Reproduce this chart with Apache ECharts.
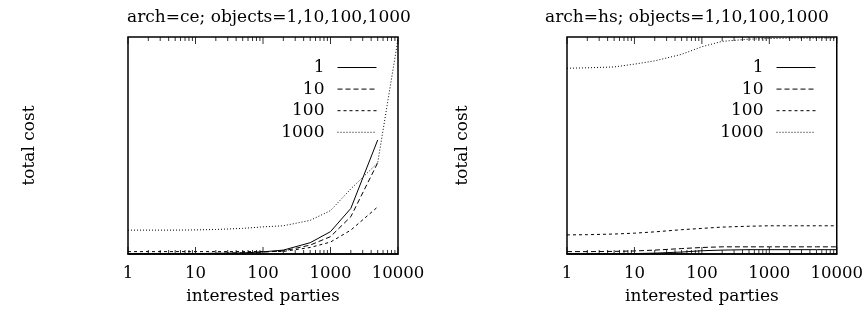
<!DOCTYPE html>
<html lang="en">
<head>
    <meta charset="UTF-8">
    <title>total cost vs interested parties</title>
    <script src="https://cdn.jsdelivr.net/npm/echarts/dist/echarts.min.js"></script>
    <style>
        html, body { margin: 0; padding: 0; background: #fff; }
        #main { width: 866px; height: 311px; }
    </style>
</head>
<body>
    <div id="main"></div>

    <script>
        // interested parties (x, log scale)
        var parties = [1, 2, 5, 10, 20, 50, 100, 200, 500, 1000, 2000, 5000, 10000];
        var objectCounts = ['1', '10', '100', '1000'];

        // arch=ce, total cost (relative units, 0..100)
        var ce1    = [0.1, 0.1, 0.1, 0.2, 0.3, 0.5, 1.0, 1.8, 5.2, 10.3, 21.0, 52.5];
        var ce10   = [0.1, 0.1, 0.1, 0.2, 0.3, 0.5, 0.9, 1.4, 4.1, 8.0, 17.2, 42.0];
        var ce100  = [1.1, 1.1, 1.1, 1.1, 1.1, 1.1, 1.1, 1.2, 3.0, 5.5, 11.0, 21.7];
        var ce1000 = [11.0, 11.0, 11.0, 11.1, 11.3, 11.8, 12.5, 13.0, 15.5, 20.0, 30.0, 42.0, 99.0];

        // arch=hs, total cost
        var hs1    = [0.0, 0.0, 0.1, 0.2, 0.4, 0.9, 1.5, 1.8, 2.0, 2.0, 2.0, 2.0, 2.0];
        var hs10   = [1.1, 1.1, 1.2, 1.4, 1.8, 2.5, 3.0, 3.3, 3.3, 3.3, 3.3, 3.3, 3.3];
        var hs100  = [8.8, 8.9, 9.2, 9.6, 10.2, 11.2, 11.8, 12.4, 12.8, 13.0, 13.0, 13.0, 13.0];
        var hs1000 = [85.6, 85.8, 86.2, 87.5, 89.0, 92.0, 95.5, 98.0, 99.0, 99.3, 99.5, 99.5, 99.5];

        // x axis tick marks
        var majorTicks = [1, 10, 100, 1000, 10000];
        var minorTicks = [2, 3, 4, 5, 6, 7, 8, 9,
                          20, 30, 40, 50, 60, 70, 80, 90,
                          200, 300, 400, 500, 600, 700, 800, 900,
                          2000, 3000, 4000, 5000, 6000, 7000, 8000, 9000];

        var yMax = 100;
        var font = 'DejaVu Serif';
        var dashes = { '1': 'solid', '10': [5, 3], '100': [3, 3], '1000': [1, 2] };

        function pairs(ys) {
            return ys.map(function (y, i) { return [parties[i], y]; });
        }

        function lineSeries(name, ys, idx) {
            return {
                name: name,
                type: 'line',
                xAxisIndex: idx,
                yAxisIndex: idx,
                data: pairs(ys),
                symbol: 'none',
                silent: true,
                lineStyle: { color: '#000', width: 1, type: dashes[name] },
                itemStyle: { color: '#000' }
            };
        }

        function tickSeries(idx) {
            var data = [];
            [[majorTicks, 7], [minorTicks, 4]].forEach(function (t) {
                t[0].forEach(function (x) {
                    data.push({ value: [x, 0], symbolSize: [1, t[1]], symbolOffset: [0, -t[1] / 2] });
                    data.push({ value: [x, yMax], symbolSize: [1, t[1]], symbolOffset: [0, t[1] / 2] });
                });
            });
            return {
                type: 'scatter',
                xAxisIndex: idx,
                yAxisIndex: idx,
                symbol: 'rect',
                clip: false,
                silent: true,
                itemStyle: { color: '#000' },
                data: data,
                z: 5
            };
        }

        function xAxis(idx) {
            return {
                type: 'log',
                logBase: 10,
                min: 1,
                max: 10000,
                gridIndex: idx,
                name: 'interested parties',
                nameLocation: 'middle',
                nameGap: 34,
                nameTextStyle: { fontFamily: font, fontSize: 17, color: '#000' },
                axisLine: { show: true, lineStyle: { color: '#000', width: 1.5 } },
                axisTick: { show: false },
                splitLine: { show: false },
                axisLabel: {
                    margin: 11,
                    fontFamily: font,
                    fontSize: 16.5,
                    color: '#000',
                    formatter: function (v) { return String(Math.round(v)); }
                }
            };
        }

        function yAxis(idx, gap) {
            return {
                type: 'value',
                min: 0,
                max: yMax,
                gridIndex: idx,
                name: 'total cost',
                nameLocation: 'middle',
                nameGap: gap,
                nameTextStyle: { fontFamily: font, fontSize: 17, color: '#000' },
                axisLine: { show: false },
                axisTick: { show: false },
                axisLabel: { show: false },
                splitLine: { show: false }
            };
        }

        function legend(right) {
            return {
                data: objectCounts,
                orient: 'vertical',
                align: 'right',
                right: right,
                top: 59,
                padding: 0,
                itemWidth: 39,
                itemHeight: 14,
                itemGap: 4.6,
                selectedMode: false,
                itemStyle: { opacity: 0 },
                lineStyle: { width: 1 },
                textStyle: {
                    fontFamily: font, fontSize: 17, color: '#000',
                    lineHeight: 14, padding: [0, 8, 0, 0]
                }
            };
        }

        var chart = echarts.init(document.getElementById('main'), null, { renderer: 'canvas' });

        var option = {
            animation: false,
            title: [
                { text: 'arch=ce; objects=1,10,100,1000', left: 122, top: 4,
                  textStyle: { fontFamily: font, fontSize: 17, fontWeight: 'normal', color: '#000' } },
                { text: 'arch=hs; objects=1,10,100,1000', left: 540, top: 4,
                  textStyle: { fontFamily: font, fontSize: 17, fontWeight: 'normal', color: '#000' } }
            ],
            grid: [
                { left: 128, top: 37, width: 270, height: 217, show: true, borderColor: '#000', borderWidth: 1.5 },
                { left: 567, top: 37, width: 270, height: 217, show: true, borderColor: '#000', borderWidth: 1.5 }
            ],
            xAxis: [xAxis(0), xAxis(1)],
            yAxis: [yAxis(0, 90), yAxis(1, 96)],
            legend: [legend(489), legend(50)],
            series: [
                lineSeries('1', ce1, 0),
                lineSeries('10', ce10, 0),
                lineSeries('100', ce100, 0),
                lineSeries('1000', ce1000, 0),
                tickSeries(0),
                lineSeries('1', hs1, 1),
                lineSeries('10', hs10, 1),
                lineSeries('100', hs100, 1),
                lineSeries('1000', hs1000, 1),
                tickSeries(1)
            ]
        };

        chart.setOption(option);
    </script>
</body>
</html>
